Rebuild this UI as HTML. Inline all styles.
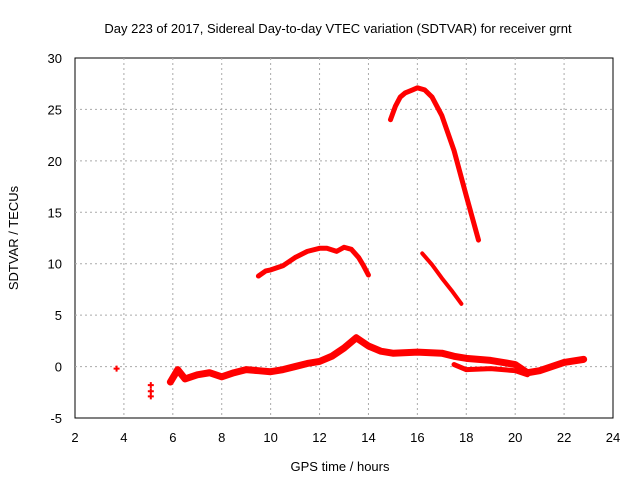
<!DOCTYPE html>
<html><head><meta charset="utf-8"><style>
body{margin:0;background:#fff}
text{font-family:"Liberation Sans",sans-serif;font-size:13px;fill:#000}
</style></head><body>
<svg id="chart" width="640" height="480">
<rect x="75" y="58" width="538" height="360" fill="none" stroke="#000"/>
<g id="grid"></g><g id="ticks"></g><g id="series"></g>
<text x="338" y="33" text-anchor="middle">Day 223 of 2017, Sidereal Day-to-day VTEC variation (SDTVAR) for receiver grnt</text>
<text x="340" y="471" text-anchor="middle">GPS time / hours</text>
<text transform="translate(18,238) rotate(-90)" text-anchor="middle">SDTVAR / TECUs</text>
</svg>
<script>
const xTicks=[2,4,6,8,10,12,14,16,18,20,22,24];
const yTicks=[-5,0,5,10,15,20,25,30];
const upperX=[14.9,15.1,15.3,15.5,15.8,16.0,16.3,16.6,17.0,17.5,18.0,18.5];
const upperY=[24.0,25.3,26.2,26.6,26.9,27.1,26.9,26.2,24.4,21.0,16.6,12.3];
const midX=[9.5,9.8,10.0,10.5,11.0,11.5,12.0,12.3,12.7,13.0,13.3,13.6,13.8,14.0];
const midY=[8.8,9.3,9.4,9.8,10.6,11.2,11.5,11.5,11.2,11.6,11.4,10.6,9.8,8.9];
const shortX=[16.2,16.6,17.0,17.4,17.8];
const shortY=[11.0,9.9,8.6,7.4,6.1];
const lowX=[5.9,6.2,6.5,7.0,7.5,8.0,8.5,9.0,9.5,10.0,10.5,11.0,11.5,12.0,12.5,13.0,13.5,14.0,14.5,15.0,16.0,17.0,17.5,18.0,19.0,20.0,20.5,21.0,21.5,22.0,22.8];
const lowY=[-1.5,-0.3,-1.2,-0.8,-0.6,-1.0,-0.6,-0.3,-0.4,-0.5,-0.3,0.0,0.3,0.5,1.0,1.8,2.8,2.0,1.5,1.3,1.4,1.3,1.0,0.8,0.6,0.2,-0.6,-0.4,0.0,0.4,0.7];
const branchX=[17.5,18.0,19.0,20.0,20.5];
const branchY=[0.2,-0.3,-0.2,-0.4,-0.8];
const dotsX=[3.7,5.1,5.1,5.1];
const dotsY=[-0.2,-1.8,-2.4,-2.9];
const X=v=>75+(v-2)*538/22, Y=v=>418-(v+5)*360/35;
const ns="http://www.w3.org/2000/svg";
function mk(t,p,a){const e=document.createElementNS(ns,t);for(const k in a)e.setAttribute(k,a[k]);p.appendChild(e);return e;}
const g=document.getElementById('grid'),tk=document.getElementById('ticks'),s=document.getElementById('series');
xTicks.forEach(v=>{
 if(v>2&&v<24){const l=mk('line',g,{x1:X(v),x2:X(v),y1:58,y2:418,stroke:'#aaa','stroke-dasharray':'2,3'});
 }
 const t=mk('text',tk,{x:X(v),y:442,'text-anchor':'middle'});t.textContent=v;
 
});
yTicks.forEach(v=>{
 if(v>-5&&v<30){const l=mk('line',g,{x1:75,x2:613,y1:Y(v),y2:Y(v),stroke:'#aaa','stroke-dasharray':'2,3'});
 }
 const t=mk('text',tk,{x:62,y:Y(v)+5,'text-anchor':'end'});t.textContent=v;
 
});
function line(xs,ys,w,name){
 const p=mk('polyline',s,{points:xs.map((x,i)=>X(x)+','+Y(ys[i])).join(' '),fill:'none',stroke:'#f00','stroke-width':w,'stroke-linejoin':'round','stroke-linecap':'round'});
 
}
line(upperX,upperY,5,'series-upper-arc');
line(midX,midY,5,'series-middle-arc');
line(shortX,shortY,4,'series-short-segment');
line(lowX,lowY,7,'series-low-band');
line(branchX,branchY,5,'series-low-branch');
dotsX.forEach((x,i)=>{
 const r=mk('path',s,{d:`M${X(x)-3},${Y(dotsY[i])}h6M${X(x)},${Y(dotsY[i])-3}v6`,stroke:'#f00','stroke-width':2});
 
});
</script>
</body></html>
